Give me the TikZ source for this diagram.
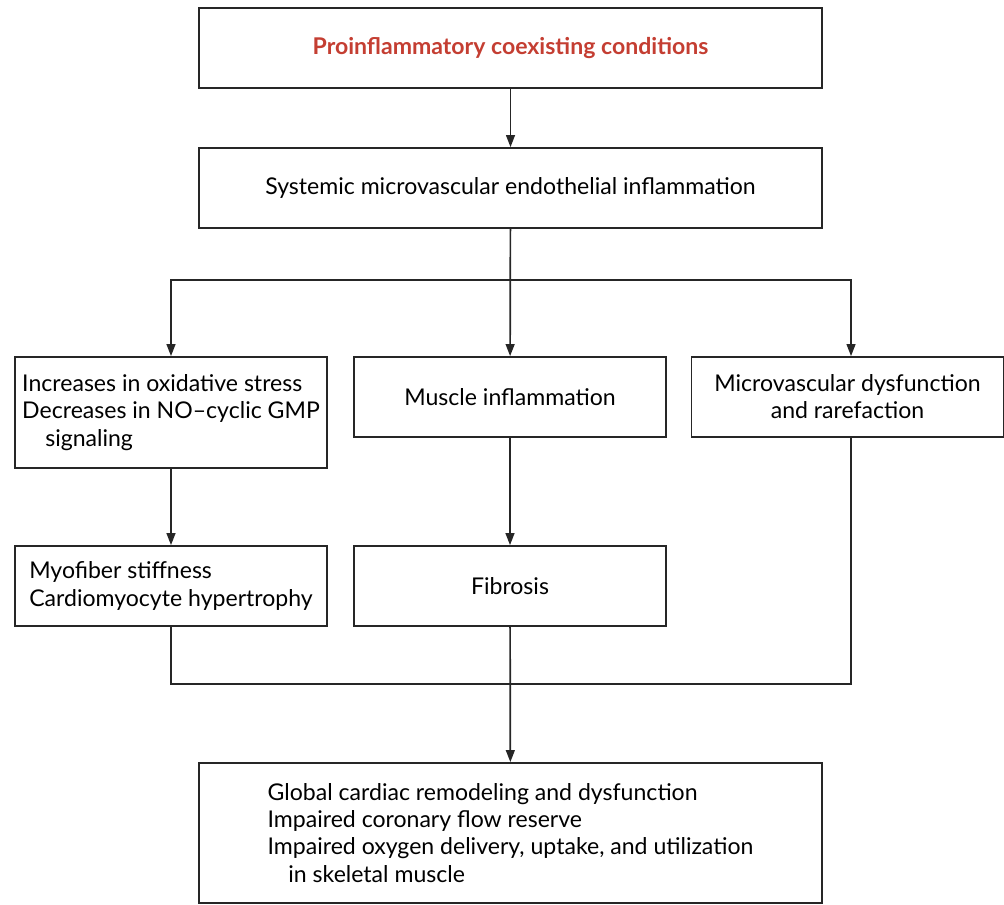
\documentclass[tikz,border=0pt]{standalone}
\usepackage{fontspec}
\setmainfont{Lato}
\usepackage{xcolor}
\usepackage{tikz}
\usetikzlibrary{positioning,arrows.meta}

\definecolor{headred}{RGB}{196,62,50}

\begin{document}
\begin{tikzpicture}[x=0.025cm, y=-0.025cm, font=\fontsize{16.4}{19.3}\selectfont, line width=1.2pt,
  box/.style={draw=black!85, align=left, inner sep=0pt, minimum height=2cm},
  wide/.style={box, minimum width=15.575cm},
  narrow/.style={box, minimum width=7.8cm},
  arr/.style={-{Triangle[length=3mm, width=2.2mm]}, draw=black!85}]
  \useasboundingbox (0,0) rectangle (1004,905);
  % main chain
  \node[wide] (cond) at (510.5,48) {\textcolor{headred}{\bfseries Proinflammatory coexisting conditions}};
  \node[wide] (sys) at (510.5,188) {Systemic microvascular endothelial inflammation};
  \node[narrow, minimum height=2.775cm] (ox) at (171,412.5) {Increases in oxidative stress\\Decreases in NO--cyclic GMP\\\hspace*{1em}signaling};
  \node[narrow] (mus) at (510,397) {Muscle inflammation};
  \node[narrow, align=center] (mvd) at (847.5,397) {Microvascular dysfunction\\and rarefaction};
  \node[narrow] (myo) at (171,586) {Myofiber stiffness\\Cardiomyocyte hypertrophy};
  \node[narrow] (fib) at (510,586) {Fibrosis};
  \node[wide, minimum height=3.5cm] (out) at (510.5,833) {Global cardiac remodeling and dysfunction\\Impaired coronary flow reserve\\Impaired oxygen delivery, uptake, and utilization\\\hspace*{0.9em}in skeletal muscle};
  % fork and join points
  \coordinate (fork) at (511,280);
  \coordinate (join) at (511,684);
  \draw[arr] (cond) -- (sys);
  \draw[arr] (sys) -- (mus);
  \draw[arr] (fork) -| (ox.north);
  \draw[arr] (fork) -| ([xshift=2.5]mvd.north);
  \draw[arr] (ox) -- (myo);
  \draw[arr] (mus) -- (fib);
  \draw[draw=black!85] (myo.south) |- (join);
  \draw[draw=black!85] ([xshift=2.5]mvd.south) |- (join);
  \draw[arr] (fib) -- (out);
\end{tikzpicture}
\end{document}
